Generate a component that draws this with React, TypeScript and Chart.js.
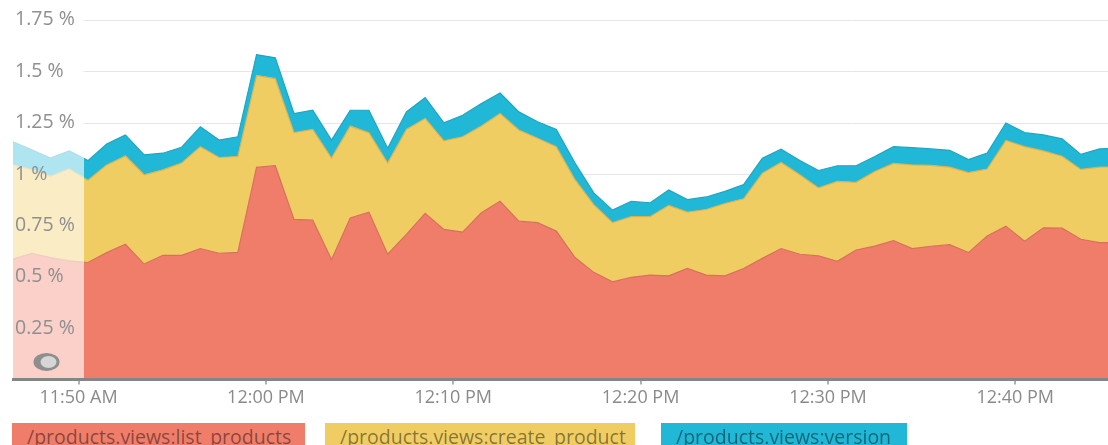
import React, { useEffect, useRef } from 'react';
import { Chart, registerables } from 'chart.js';

Chart.register(...registerables);

// ---- data ----
const times = [
  '11:46:30', '11:47:30', '11:48:30', '11:49:30', '11:50:30', '11:51:30', '11:52:30', '11:53:30', '11:54:30', '11:55:30',
  '11:56:30', '11:57:30', '11:58:30', '11:59:30', '12:00:30', '12:01:30', '12:02:30', '12:03:30', '12:04:30', '12:05:30',
  '12:06:30', '12:07:30', '12:08:30', '12:09:30', '12:10:30', '12:11:30', '12:12:30', '12:13:30', '12:14:30', '12:15:30',
  '12:16:30', '12:17:30', '12:18:30', '12:19:30', '12:20:30', '12:21:30', '12:22:30', '12:23:30', '12:24:30', '12:25:30',
  '12:26:30', '12:27:30', '12:28:30', '12:29:30', '12:30:30', '12:31:30', '12:32:30', '12:33:30', '12:34:30', '12:35:30',
  '12:36:30', '12:37:30', '12:38:30', '12:39:30', '12:40:30', '12:41:30', '12:42:30', '12:43:30', '12:44:30', '12:45:30',
];

const listProducts = [
  0.585, 0.614, 0.593, 0.577, 0.569, 0.617, 0.658, 0.561, 0.604, 0.604,
  0.637, 0.614, 0.618, 1.032, 1.040, 0.779, 0.775, 0.583, 0.786, 0.814,
  0.609, 0.706, 0.808, 0.730, 0.717, 0.811, 0.867, 0.770, 0.763, 0.722,
  0.593, 0.521, 0.475, 0.497, 0.508, 0.504, 0.540, 0.508, 0.504, 0.540,
  0.589, 0.637, 0.609, 0.601, 0.575, 0.630, 0.649, 0.676, 0.637, 0.648,
  0.656, 0.617, 0.698, 0.746, 0.672, 0.738, 0.736, 0.682, 0.666, 0.665,
];

const createProduct = [
  0.459, 0.406, 0.395, 0.447, 0.400, 0.427, 0.430, 0.435, 0.416, 0.449,
  0.496, 0.466, 0.467, 0.448, 0.424, 0.422, 0.442, 0.494, 0.447, 0.387,
  0.444, 0.511, 0.462, 0.431, 0.464, 0.422, 0.427, 0.444, 0.411, 0.411,
  0.379, 0.330, 0.288, 0.295, 0.284, 0.343, 0.274, 0.319, 0.352, 0.339,
  0.415, 0.419, 0.387, 0.331, 0.389, 0.329, 0.363, 0.375, 0.407, 0.394,
  0.377, 0.390, 0.326, 0.417, 0.461, 0.374, 0.350, 0.340, 0.367, 0.370,
];

const version = [
  0.113, 0.097, 0.089, 0.088, 0.096, 0.102, 0.102, 0.097, 0.081, 0.077,
  0.097, 0.085, 0.096, 0.101, 0.101, 0.093, 0.093, 0.088, 0.077, 0.109,
  0.072, 0.085, 0.102, 0.088, 0.105, 0.110, 0.100, 0.088, 0.080, 0.084,
  0.081, 0.057, 0.061, 0.075, 0.067, 0.075, 0.061, 0.061, 0.059, 0.069,
  0.073, 0.064, 0.069, 0.085, 0.076, 0.081, 0.073, 0.082, 0.084, 0.080,
  0.082, 0.063, 0.078, 0.085, 0.068, 0.078, 0.085, 0.073, 0.089, 0.090,
];

const seriesNames = [
  '/products.views:list_products',
  '/products.views:create_product',
  '/products.views:version',
];

const xTickMinutes = [0, 10, 20, 30, 40, 50];
const xTickLabels = ['11:50 AM', '12:00 PM', '12:10 PM', '12:20 PM', '12:30 PM', '12:40 PM'];
const yTickValues = [0.25, 0.5, 0.75, 1, 1.25, 1.5, 1.75];
const fadeUntilMinute = 0.29;

// ---- styles ----
const fillColors = ['#F07D69', '#F0CD63', '#21B8D7'];
const lineColors = ['#D8705D', '#D9B252', '#1DA6C4'];
const legendText = 'rgba(0, 0, 0, 0.45)';
const FONT = '"Open Sans", "DejaVu Sans", sans-serif';

function toMinutes(t: string): number {
  const [h, m, s] = t.split(':').map(Number);
  return h * 60 + m + s / 60 - (11 * 60 + 50);
}

const overlayPlugin = {
  id: 'customDecor',
  beforeDatasetsDraw(chart: any) {
    const { ctx, chartArea, scales } = chart;
    ctx.save();
    ctx.strokeStyle = '#e6e6e6';
    ctx.lineWidth = 1;
    for (const v of yTickValues) {
      const y = Math.round(scales.y.getPixelForValue(v)) + 0.5;
      ctx.beginPath();
      ctx.moveTo(82, y);
      ctx.lineTo(chartArea.right, y);
      ctx.stroke();
    }
    ctx.restore();
  },
  afterDatasetsDraw(chart: any) {
    const { ctx, chartArea, scales } = chart;
    const xEnd = scales.x.getPixelForValue(fadeUntilMinute);
    ctx.save();
    ctx.fillStyle = 'rgba(255,255,255,0.64)';
    ctx.fillRect(chartArea.left, chartArea.top - 20, xEnd - chartArea.left, chartArea.bottom - chartArea.top + 20);
    ctx.restore();
  },
  afterDraw(chart: any) {
    const { ctx, chartArea } = chart;
    const cx = chartArea.left + 33.5;
    const cy = chartArea.bottom - 17.5;
    ctx.save();
    ctx.fillStyle = '#8e8e8e';
    ctx.beginPath();
    ctx.ellipse(cx, cy, 13, 9, 0, 0, Math.PI * 2);
    ctx.fill();
    ctx.fillStyle = '#d6d6d6';
    ctx.beginPath();
    ctx.ellipse(cx + 2, cy, 8, 6, 0, 0, Math.PI * 2);
    ctx.fill();
    ctx.restore();
  },
};

export default function App() {
  const canvasRef = useRef<HTMLCanvasElement | null>(null);

  useEffect(() => {
    if (!canvasRef.current) return;
    const xs = times.map(toMinutes);
    const series = [listProducts, createProduct, version];
    const chart = new Chart(canvasRef.current, {
      type: 'line',
      data: {
        datasets: series.map((vals, i) => ({
          label: seriesNames[i],
          data: vals.map((v, j) => ({ x: xs[j], y: v })),
          backgroundColor: fillColors[i],
          borderColor: lineColors[i],
          borderWidth: 1.2,
          pointRadius: 0,
          tension: 0,
          fill: i === 0 ? 'origin' : '-1',
        })),
      },
      options: {
        animation: false,
        responsive: true,
        maintainAspectRatio: false,
        layout: { padding: { left: 9, right: 0, top: 0, bottom: 33 } },
        plugins: { legend: { display: false }, tooltip: { enabled: false } },
        scales: {
          x: {
            type: 'linear',
            min: -3.5,
            max: 54.95,
            afterBuildTicks: (scale: any) => {
              scale.ticks = xTickMinutes.map((v) => ({ value: v }));
            },
            ticks: {
              z: 1,
              autoSkip: false,
              maxRotation: 0,
              padding: 3,
              color: '#8a8a8a',
              font: { family: FONT, size: 18 },
              callback: (v: any) => {
                const idx = xTickMinutes.indexOf(Number(v));
                return idx >= 0 ? xTickLabels[idx] : '';
              },
            },
            grid: { z: 1, display: true, drawOnChartArea: false, drawTicks: true, tickLength: 5, color: '#b0b0b0', lineWidth: 2 },
            border: { z: 1, display: true, color: '#858585', width: 3 },
          },
          y: {
            type: 'linear',
            stacked: true,
            min: 0,
            max: 1.78,
            afterBuildTicks: (scale: any) => {
              scale.ticks = [0, ...yTickValues].map((v) => ({ value: v }));
            },
            ticks: {
              z: 1,
              mirror: true,
              padding: 2,
              color: '#8f8f8f',
              font: { family: FONT, size: 19.5 },
              callback: (v: any) => (Number(v) === 0 ? '' : `${v} %`),
            },
            grid: { display: false, drawTicks: false, tickLength: 0 },
            border: { display: false },
          },
        },
      },
      plugins: [overlayPlugin],
    });
    return () => chart.destroy();
  }, []);

  const legendBoxes = [
    { left: 12, width: 293 },
    { left: 325, width: 310 },
    { left: 661, width: 246 },
  ];

  return (
    <div style={{ position: 'absolute', left: 0, top: 0, width: 1108, height: 445, overflow: 'hidden', background: '#fff' }}>
      <div style={{ position: 'absolute', left: 0, top: 0, width: 1108, height: 445 }}>
        <canvas ref={canvasRef} />
      </div>
      {seriesNames.map((name, i) => (
        <div
          key={name}
          style={{
            position: 'absolute',
            left: legendBoxes[i].left,
            top: 423,
            width: legendBoxes[i].width,
            height: 30,
            background: fillColors[i],
            color: legendText,
            fontFamily: FONT,
            fontSize: 19.5,
            lineHeight: '28px',
            paddingLeft: 15,
            boxSizing: 'border-box',
            whiteSpace: 'nowrap',
            overflow: 'hidden',
          }}
        >
          {name}
        </div>
      ))}
    </div>
  );
}
